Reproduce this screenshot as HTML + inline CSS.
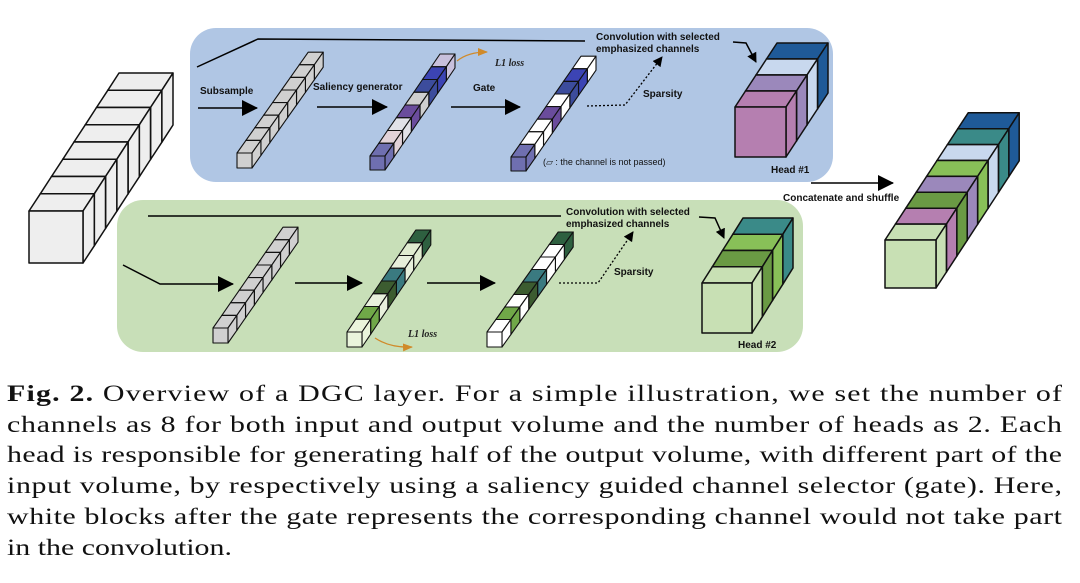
<!DOCTYPE html>
<html><head><meta charset="utf-8"><style>
html,body{margin:0;padding:0;background:#fff;}
svg{display:block;}
.b{font-family:"Liberation Sans",sans-serif;font-weight:bold;font-size:10px;fill:#111;}
.n{font-family:"Liberation Sans",sans-serif;font-size:9px;fill:#111;}
.i{font-family:"Liberation Serif",serif;font-style:italic;font-weight:bold;font-size:10px;fill:#222;}
.c{font-family:"Liberation Serif",serif;font-size:23px;fill:#111;}
</style></head><body>
<svg id="s" width="1080" height="583" viewBox="0 0 1080 583" xmlns="http://www.w3.org/2000/svg">
<defs>
<marker id="ah" markerWidth="10" markerHeight="10" refX="9" refY="5" orient="auto" markerUnits="userSpaceOnUse"><path d="M0,0 L10,5 L0,10 z" fill="#000"/></marker>
<marker id="ab" markerWidth="16" markerHeight="16" refX="15" refY="8" orient="auto" markerUnits="userSpaceOnUse"><path d="M0,0 L16,8 L0,16 z" fill="#000"/></marker>
<marker id="ao" markerWidth="10" markerHeight="10" refX="9" refY="5" orient="auto" markerUnits="userSpaceOnUse"><path d="M0,1 L10,5 L0,9 z" fill="#d08a2a"/></marker>
</defs>
<rect x="190" y="28" width="643" height="154" rx="26" fill="#b0c6e4"/>
<rect x="117" y="200" width="686" height="152" rx="26" fill="#c8dfb8"/>
<g id="cubes"></g>
<polyline points="197,67 258,39 585,41" fill="none" stroke="#000" stroke-width="1.5"/>
<text class="b" x="596" y="40">Convolution with selected</text>
<text class="b" x="596" y="52">emphasized channels</text>
<polyline points="733,42 746,43 756,62" fill="none" stroke="#000" stroke-width="1.5" marker-end="url(#ah)"/>
<line x1="198" y1="108" x2="257" y2="108" stroke="#000" stroke-width="1.5" marker-end="url(#ab)"/>
<line x1="317" y1="107" x2="387" y2="107" stroke="#000" stroke-width="1.5" marker-end="url(#ab)"/>
<line x1="451" y1="107" x2="520" y2="107" stroke="#000" stroke-width="1.5" marker-end="url(#ab)"/>
<polyline points="587,106 625,105 662,57" fill="none" stroke="#000" stroke-width="1.3" stroke-dasharray="2,2" marker-end="url(#ah)"/>
<text class="b" x="200" y="94">Subsample</text>
<text class="b" x="313" y="90">Saliency generator</text>
<text class="b" x="473" y="91">Gate</text>
<text class="b" x="643" y="97">Sparsity</text>
<text class="i" x="495" y="66">L1 loss</text>
<path d="M457,61 Q468,52 487,52" fill="none" stroke="#d08a2a" stroke-width="1.3" marker-end="url(#ao)"/>
<text class="n" x="543" y="165">(<tspan>▱</tspan> : the channel is not passed)</text>
<text class="b" x="771" y="173">Head #1</text>
<text class="b" x="783" y="201">Concatenate and shuffle</text>
<line x1="811" y1="183" x2="893" y2="183" stroke="#000" stroke-width="1.5" marker-end="url(#ab)"/>
<line x1="148" y1="216" x2="561" y2="216" stroke="#000" stroke-width="1.5"/>
<text class="b" x="566" y="215">Convolution with selected</text>
<text class="b" x="566" y="227">emphasized channels</text>
<polyline points="699,217 715,218 724,238" fill="none" stroke="#000" stroke-width="1.5" marker-end="url(#ah)"/>
<polyline points="123,265 160,284 233,284" fill="none" stroke="#000" stroke-width="1.5" marker-end="url(#ab)"/>
<line x1="295" y1="283" x2="362" y2="283" stroke="#000" stroke-width="1.5" marker-end="url(#ab)"/>
<line x1="427" y1="283" x2="495" y2="283" stroke="#000" stroke-width="1.5" marker-end="url(#ab)"/>
<polyline points="559,283 598,283 633,232" fill="none" stroke="#000" stroke-width="1.3" stroke-dasharray="2,2" marker-end="url(#ah)"/>
<text class="b" x="614" y="275">Sparsity</text>
<text class="i" x="408" y="337">L1 loss</text>
<path d="M375,338 Q390,348 412,347" fill="none" stroke="#d08a2a" stroke-width="1.3" marker-end="url(#ao)"/>
<text class="b" x="738" y="348">Head #2</text>
<g transform="scale(1.3,1)">
<text class="c" x="5.4" y="401" textLength="811.5" lengthAdjust="spacing"><tspan font-weight="bold">Fig. 2.</tspan> Overview of a DGC layer. For a simple illustration, we set the number of</text>
<text class="c" x="5.4" y="432" textLength="811.5" lengthAdjust="spacing">channels as 8 for both input and output volume and the number of heads as 2. Each</text>
<text class="c" x="5.4" y="462" textLength="811.5" lengthAdjust="spacing">head is responsible for generating half of the output volume, with different part of the</text>
<text class="c" x="5.4" y="493" textLength="811.5" lengthAdjust="spacing">input volume, by respectively using a saliency guided channel selector (gate). Here,</text>
<text class="c" x="5.4" y="524" textLength="811.5" lengthAdjust="spacing">white blocks after the gate represents the corresponding channel would not take part</text>
<text class="c" x="5.4" y="555">in the convolution.</text>
</g>
</svg>
<script>
var g=document.getElementById('cubes'),NS='http://www.w3.org/2000/svg';
function poly(pts,fill,sw){var p=document.createElementNS(NS,'polygon');p.setAttribute('points',pts.map(function(a){return a[0].toFixed(1)+','+a[1].toFixed(1)}).join(' '));p.setAttribute('fill',fill);p.setAttribute('stroke','#111');p.setAttribute('stroke-width',sw);p.setAttribute('stroke-linejoin','round');g.appendChild(p);}
function stack(x,y,w,h,dx,dy,cols,sw){for(var i=cols.length-1;i>=0;i--){var X=x+i*dx,Y=y-i*dy,c=cols[i];
poly([[X,Y],[X+dx,Y-dy],[X+w+dx,Y-dy],[X+w,Y]],c,sw);
poly([[X+w,Y],[X+w+dx,Y-dy],[X+w+dx,Y+h-dy],[X+w,Y+h]],c,sw);
poly([[X,Y],[X+w,Y],[X+w,Y+h],[X,Y+h]],c,sw);}}
function rep(c,n){var a=[];for(var i=0;i<n;i++)a.push(c);return a;}
stack(29,211,54,52,11.25,17.25,rep('#eeeeee',8),1.5);
stack(237,153,15,15,8.9,12.6,rep('#d0d0d0',8),1.1);
stack(370,156,15,14,8.75,12.75,['#6f6fb0','#e2d2d8','#e2e2e8','#6a4c9c','#cfcfcf','#3c4c9c','#3c44b4','#c8c0dc'],1.1);
stack(511,157,15,14,8.75,12.6,['#6f6fb0','#fff','#fff','#6a4c9c','#fff','#3c4c9c','#3c44b4','#fff'],1.1);
stack(213,328,15,15,8.75,12.6,rep('#d0d0d0',8),1.1);
stack(347,332,15,15,8.6,12.75,['#eaf5dc','#70a848','#e8f0dc','#3c5c30','#3a7a80','#e8f0dc','#e0ecd0','#2e6040'],1.1);
stack(487,332,15,15,8.9,12.5,['#fff','#70a848','#fff','#3c5c30','#3a7a80','#fff','#fff','#2e6040'],1.1);
stack(735,107,51,50,10.5,16,['#b57fb0','#9b88bb','#c8d8ee','#1f5a98'],1.5);
stack(702,283,50,50,10.25,16.25,['#c8e0b4','#6a9a44','#88c058','#3a8a88'],1.5);
stack(885,240,51,48,10.4,15.9,['#c8e0b4','#b57fb0','#6a9a44','#9b88bb','#88c058','#c8d8ee','#3a8a88','#1f5a98'],1.5);
</script>
</body></html>
